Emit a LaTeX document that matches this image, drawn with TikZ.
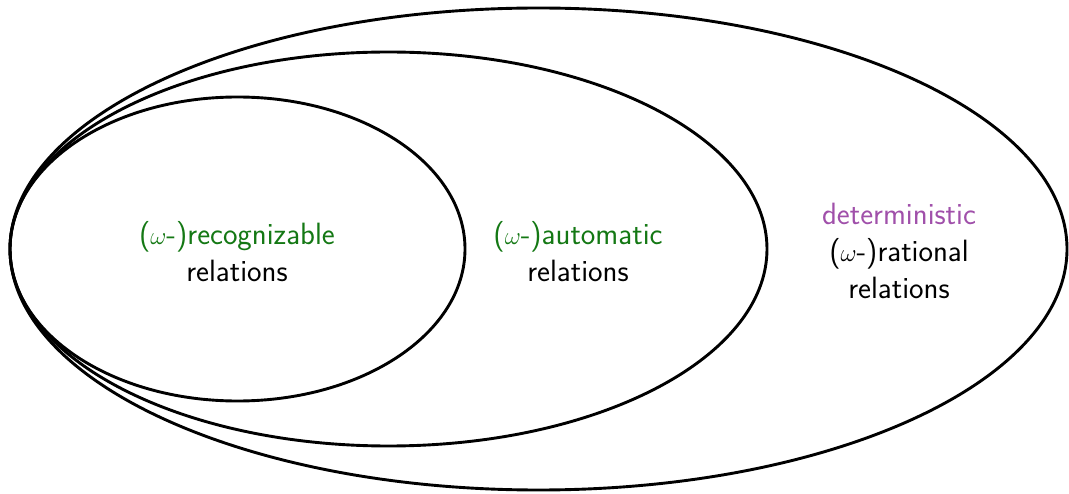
\documentclass[tikz,border=0pt]{standalone}
\usepackage{tikz}
\definecolor{recgreen}{RGB}{20,120,20}
\definecolor{detpurple}{RGB}{160,80,170}
\begin{document}
\begin{tikzpicture}[x=1pt,y=-1pt,
  set/.style={draw=black,line width=2.9pt},
  lbl/.style={align=center,font=\sffamily\fontsize{30.8}{37}\selectfont,inner sep=0pt}]
\useasboundingbox (0,0) rectangle (1069,494);
\draw[set] (538.5,249) ellipse [x radius=528.5pt, y radius=241pt];
\draw[set] (388.5,249) ellipse [x radius=378.5pt, y radius=197pt];
\draw[set] (237.5,249) ellipse [x radius=227.5pt, y radius=152pt];
\node[lbl] (rec) at (237,252) {\textcolor{recgreen}{($\omega$-)recognizable}\\relations};
\node[lbl] (aut) at (578,252) {\textcolor{recgreen}{($\omega$-)automatic}\\relations};
\node[lbl] (rat) at (899,251) {\textcolor{detpurple}{deterministic}\\($\omega$-)rational\\relations};
\end{tikzpicture}
\end{document}
